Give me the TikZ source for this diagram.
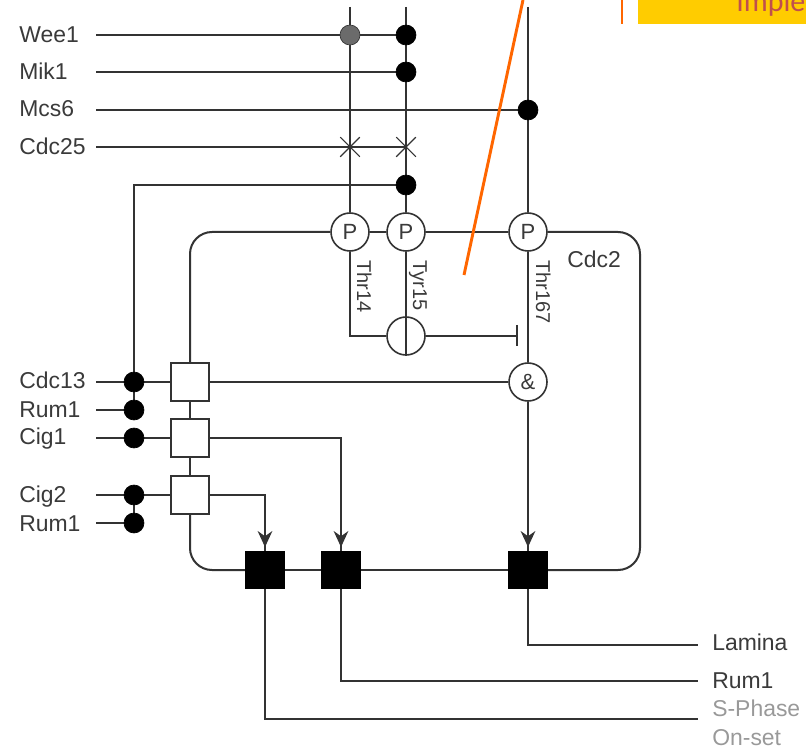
\documentclass[tikz,border=0pt]{standalone}
\usepackage{fontspec}
\setmainfont{Liberation Sans}
\newfontfamily\callout{Carlito}
\usetikzlibrary{arrows.meta,shapes.misc,backgrounds}
\definecolor{ink}{HTML}{333333}
\definecolor{txt}{HTML}{3A3A3A}
\newcommand{\labfont}{\fontsize{17.2}{20}\selectfont}
\newcommand{\smallfont}{\fontsize{15}{18}\selectfont}
\newcommand{\sitefont}{\fontsize{16.5}{18}\selectfont}
\tikzset{
  wire/.style={draw=ink,line width=1.5pt},
  loopwire/.style={wire,rounded corners=16.5pt},
  dot/.style={circle,fill=black,draw=black,inner sep=0pt,minimum size=15pt,line width=0.5pt},
  graydot/.style={dot,fill=black!58,draw=ink},
  site/.style={circle,fill=white,draw=ink,line width=1.2pt,inner sep=0pt,minimum size=28.5pt,font=\sitefont,text=txt},
  gate/.style={rectangle,fill=white,draw=ink,line width=1.5pt,inner sep=0pt,minimum size=28.5pt},
  kinase/.style={rectangle,fill=black,draw=black,inner sep=0pt,minimum width=29pt,minimum height=28pt},
  crossx/.style={cross out,draw=ink,line width=0.8pt,inner sep=0pt,minimum size=14pt},
  lab/.style={anchor=base west,inner sep=0pt,font=\labfont,text=txt},
  vlab/.style={anchor=base west,inner sep=0pt,rotate=-90,font=\smallfont,text=txt},
  faded/.style={lab,text=black!40},
  tip/.style={wire,-{Stealth[length=12pt,width=11pt]},shorten >=3pt},
}
\begin{document}
\begin{tikzpicture}[x=0.75pt,y=-0.75pt]
\useasboundingbox (0,0) rectangle (806,748);

% callout fragments
\fill[fill={rgb,255:red,255;green,204;blue,0}] (638,0) rectangle (806,24);
\begin{scope}
\clip (638,0) rectangle (806,24);
\node[anchor=base west,inner sep=0pt,text={rgb,255:red,192;green,80;blue,77},font=\callout\fontsize{22.5}{24}\selectfont] (calltext) at (736,12) {Imple};
\end{scope}

% nodes
\node[graydot] (wee14) at (350,35) {};
\node[dot] (wee15) at (406,35) {};
\node[dot] (mik) at (406,72) {};
\node[dot] (mcs) at (528,110) {};
\node[crossx] (x14) at (350,147) {};
\node[crossx] (x15) at (406,147) {};
\node[dot] (upper) at (406,185) {};

\node[site] (p1) at (350,232) {P};
\node[site] (p2) at (406,232) {P};
\node[site] (p3) at (528,232) {P};
\node[site] (phos) at (406,336) {};
\node[site] (and) at (528,382) {\&};

\node[gate] (s1) at (190,382) {};
\node[gate] (s2) at (190,438) {};
\node[gate] (s3) at (190,495) {};
\node[kinase] (b1) at (265,570) {};
\node[kinase] (b2) at (341,570) {};
\node[kinase] (b3) at (528,570) {};

\node[dot] (d1) at (134,382) {};
\node[dot] (d2) at (134,410) {};
\node[dot] (d3) at (134,438) {};
\node[dot] (d4) at (134,495) {};
\node[dot] (d5) at (134,523) {};

% free ends
\coordinate (t1) at (350,7);
\coordinate (t2) at (406,7);
\coordinate (t3) at (528,7);
\coordinate (iw) at (96,35);
\coordinate (im) at (96,72);
\coordinate (ic) at (96,110);
\coordinate (ix) at (96,147);
\coordinate (i1) at (96,382);
\coordinate (i2) at (96,410);
\coordinate (i3) at (96,438);
\coordinate (i4) at (96,495);
\coordinate (i5) at (96,523);
\coordinate (bar) at (517,336);
\coordinate (bartop) at (517,325);
\coordinate (barbot) at (517,346);
\coordinate (corner1) at (134,185);
\coordinate (cTR) at (640,232);
\coordinate (cBR) at (640,570);
\coordinate (c1) at (350,336);
\coordinate (a3) at (265,495);
\coordinate (a2) at (341,438);
\coordinate (oL) at (698,645);
\coordinate (oR) at (698,681);
\coordinate (oS) at (698,719);

\begin{pgfonlayer}{background}
\draw[wire] (t1) -- (p1);
\draw[wire] (t2) -- (p2);
\draw[wire] (t3) -- (p3);
\draw[wire] (iw) -- (wee15);
\draw[wire] (im) -- (mik);
\draw[wire] (ic) -- (mcs);
\draw[wire] (ix) -- (x15.center);
\draw[wire] (upper) -- (corner1) -- (d2);
\draw[loopwire] (p1) -| (s1);
\draw[wire] (p1) -- (p2);
\draw[wire] (p2) -- (p3);
\draw[loopwire] (p3) -- (cTR) -- (cBR) -- (b3);
\draw[wire] (b3) -- (b2);
\draw[wire] (b2) -- (b1);
\draw[loopwire] (b1) -| (s3);
\draw[wire] (s1) -- (s2);
\draw[wire] (s2) -- (s3);
\draw[wire] (i1) -- (s1);
\draw[wire] (i2) -- (d2);
\draw[wire] (i3) -- (s2);
\draw[wire] (i4) -- (s3);
\draw[wire] (i5) -- (d5);
\draw[wire] (d4) -- (d5);
\draw[wire] (s1) -- (and);
\draw[wire] (p1) -- (c1) -- (phos);
\draw[wire] (phos) -- (bar);
\draw[wire] (p3) -- (and);
\draw[wire] (and) -- (b3);
\draw[wire] (s3) -- (a3) -- (b1);
\draw[wire] (s2) -- (a2) -- (b2);
\draw[wire] (b3) |- (oL);
\draw[wire] (b2) |- (oR);
\draw[wire] (b1) |- (oS);
\end{pgfonlayer}

\draw[wire] (bartop) -- (barbot);
\draw[wire] (p2.south) -- (phos.south);
\draw[tip] (and.south) -- (b3.north);
\draw[tip] (a2) -- (b2.north);
\draw[tip] (a3) -- (b1.north);

% orange pointer
\coordinate (or1) at (523,0);
\coordinate (or2) at (464,275);
\coordinate (or3) at (622,0);
\coordinate (or4) at (622,24);
\draw[line width=2.2pt,draw={rgb,255:red,255;green,102;blue,0}] (or1) -- (or2);
\draw[line width=2.2pt,draw={rgb,255:red,255;green,102;blue,0}] (or3) -- (or4);

% labels
\node[lab] (lw) at (19,43) {Wee1};
\node[lab] (lm) at (19,80) {Mik1};
\node[lab] (lc) at (19,117) {Mcs6};
\node[lab] (lx) at (19,155) {Cdc25};
\node[lab] (l1) at (19,388) {Cdc13};
\node[lab] (l2) at (19,417) {Rum1};
\node[lab] (l3) at (19,444) {Cig1};
\node[lab] (l4) at (19,502) {Cig2};
\node[lab] (l5) at (19,531) {Rum1};
\node[lab] (lcdc) at (567,268) {Cdc2};
\node[lab] (lla) at (712,650) {Lamina};
\node[lab] (lru) at (712,688) {Rum1};
\node[faded] (lsp) at (712,716) {S-Phase};
\node[faded] (lon) at (712,745) {On-set};
\node[vlab] (v1) at (357,260) {Thr14};
\node[vlab] (v2) at (413,260) {Tyr15};
\node[vlab] (v3) at (536,260) {Thr167};
\end{tikzpicture}
\end{document}
